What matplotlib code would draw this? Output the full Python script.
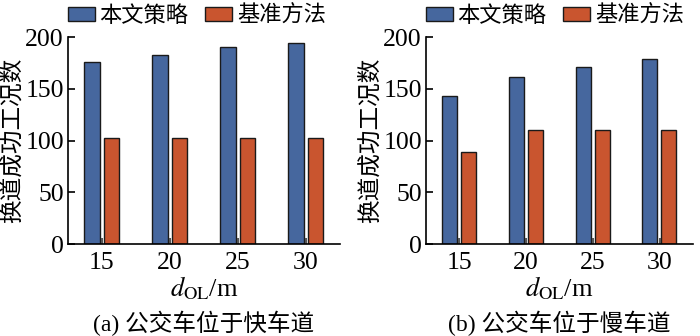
import matplotlib.pyplot as plt
import numpy as np

plt.rcParams['mathtext.fontset'] = 'stix'

d_labels = ['15', '20', '25', '30']
series_names = ['本文策略', '基准方法']

fast_ours = [176, 183, 190, 194]
fast_base = [102, 102, 102, 102]
slow_ours = [143, 161, 171, 179]
slow_base = [89, 110, 110, 110]

captions = ['(a) 公交车位于快车道', '(b) 公交车位于慢车道']

blue = '#46679E'
orange = '#C9552F'
cjk = ['Noto Sans CJK SC', 'DejaVu Sans']
serif = 'Liberation Serif'

fig = plt.figure(figsize=(7, 3.36), dpi=100)
ax_a = fig.add_axes([0.0971, 0.2738, 0.3886, 0.616])
ax_b = fig.add_axes([0.6086, 0.2738, 0.3814, 0.616])

x = np.arange(len(d_labels))
w = 0.225

for ax, ours, base, cap in [(ax_a, fast_ours, fast_base, captions[0]),
                            (ax_b, slow_ours, slow_base, captions[1])]:
    ax.bar(x - 0.145, ours, w, color=blue, edgecolor='#1a1a1a', linewidth=1.0, label=series_names[0])
    ax.bar(x + 0.14, base, w, color=orange, edgecolor='#1a1a1a', linewidth=1.0, label=series_names[1])
    ax.set_xlim(-0.5, 3.5)
    ax.set_ylim(0, 200)
    ax.set_yticks([0, 50, 100, 150, 200])
    ax.set_xticks(x)
    ax.set_xticklabels(d_labels)
    for s in ['top', 'right']:
        ax.spines[s].set_visible(False)
    for s in ['left', 'bottom']:
        ax.spines[s].set_linewidth(1.2)
    ax.tick_params(axis='y', direction='in', length=5, width=1.2, labelsize=18.5, pad=3)
    ax.tick_params(axis='x', direction='in', length=4, width=1.5, color='#555555', labelsize=18.5, pad=6)
    for lab in ax.get_xticklabels() + ax.get_yticklabels():
        lab.set_family(serif)
    ax.set_ylabel('换道成功工况数', family=cjk, fontsize=17, labelpad=1)
    ax.set_xlabel(r'$d_{\mathrm{OL}}$/m', fontsize=19, family=serif, labelpad=0)
    ax.legend(loc='lower left', bbox_to_anchor=(0.0, 1.05), ncol=2, frameon=False,
              prop={'family': cjk, 'size': 16}, handlelength=1.2, handleheight=0.6,
              handletextpad=0.22, columnspacing=0.75, borderaxespad=0, borderpad=0)
    pos = ax.get_position()
    fig.text(pos.x0 + pos.width / 2, 0.0, cap, ha='center', va='bottom',
             fontsize=17, family=['Liberation Serif', 'Noto Sans CJK SC'])

fig.savefig('out.png', dpi=100)
